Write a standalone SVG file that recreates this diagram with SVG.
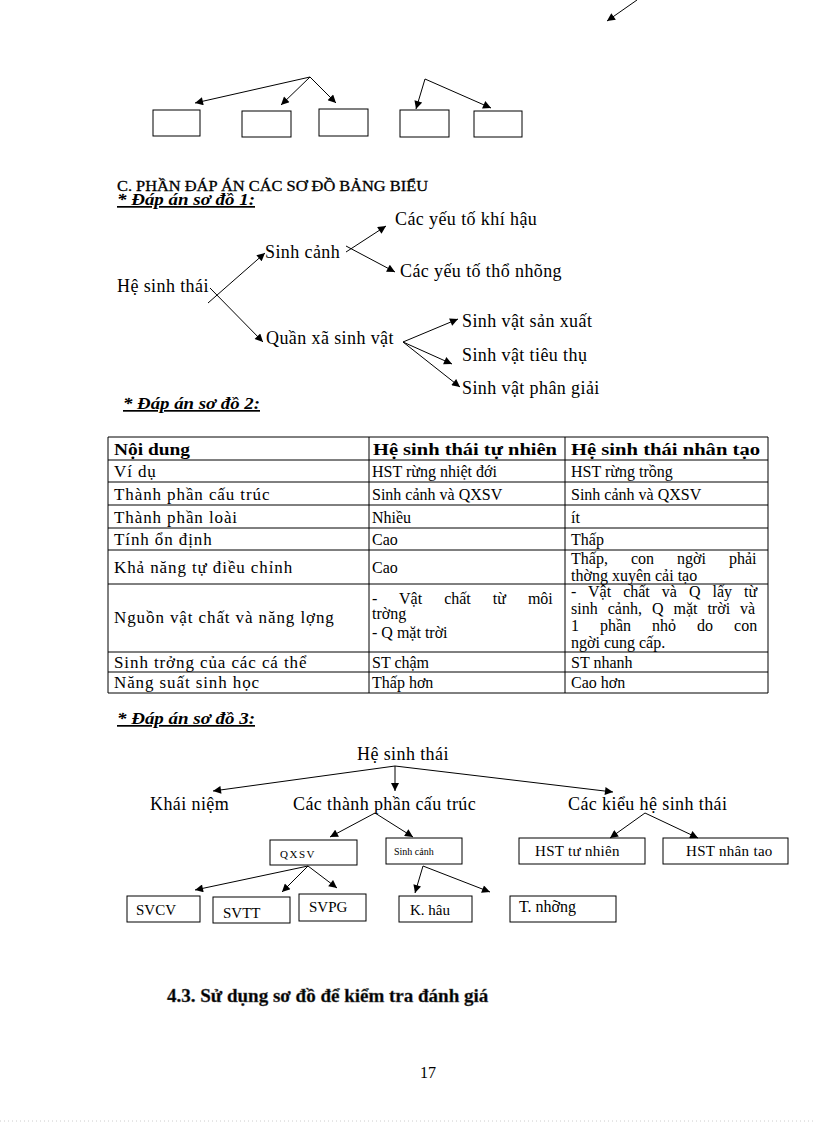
<svg xmlns="http://www.w3.org/2000/svg" width="816" height="1123" viewBox="0 0 816 1123">
<defs>
<marker id="ah" viewBox="0 0 10 10" refX="10" refY="5" markerWidth="10" markerHeight="8" markerUnits="userSpaceOnUse" orient="auto"><path d="M0,0 L10,5 L0,10 z" fill="#000"/></marker>
<style>
text{font-family:"Liberation Serif","Times New Roman",serif;fill:#000}
.t{font-size:18px;letter-spacing:0.4px}
.tc{font-size:17px;letter-spacing:0.9px}
.tb{font-size:16px}
.th{font-size:17px;font-weight:bold}
.h{font-size:17px;font-weight:bold;font-style:italic;text-decoration:underline}
.box{fill:#fff;stroke:#000;stroke-width:1}
.a{fill:none;stroke:#000;stroke-width:1;marker-end:url(#ah)}
.grid{stroke:#000;stroke-width:1}
</style>
</defs>
<rect width="816" height="1123" fill="#fff"/>

<!-- top fragment -->
<g id="top-boxes">
<rect id="tb1" class="box" x="153" y="110" width="47" height="26"/>
<rect id="tb2" class="box" x="242" y="111" width="49" height="26"/>
<rect id="tb3" class="box" x="319" y="109" width="49" height="27"/>
<rect id="tb4" class="box" x="400" y="110" width="49" height="27"/>
<rect id="tb5" class="box" x="474" y="111" width="48" height="26"/>
</g>

<text x="117" y="191" style="font-size:14px" stroke="#000" stroke-width="0.3" textLength="311" lengthAdjust="spacingAndGlyphs">C. PHẦN ĐÁP ÁN CÁC SƠ ĐỒ BẢNG BIỂU</text>
<text x="117" y="205" class="h" textLength="138" lengthAdjust="spacingAndGlyphs">* Đáp án sơ đồ 1:</text>

<!-- diagram 1 -->
<g id="d1-root"><text class="t" x="117" y="292">Hệ sinh thái</text></g>
<g id="d1-sinhcanh"><text class="t" x="265" y="258">Sinh cảnh</text></g>
<g id="d1-khihau"><text class="t" x="395" y="225">Các yếu tố khí hậu</text></g>
<g id="d1-thonhuong"><text class="t" x="400" y="277">Các yếu tố thổ nhõng</text></g>
<g id="d1-quanxa"><text class="t" x="266" y="344">Quần xã sinh vật</text></g>
<g id="d1-sx"><text class="t" x="462" y="327">Sinh vật sản xuất</text></g>
<g id="d1-tt"><text class="t" x="462" y="361">Sinh vật tiêu thụ</text></g>
<g id="d1-pg"><text class="t" x="462" y="394">Sinh vật phân giải</text></g>

<text x="123" y="409" class="h" textLength="137" lengthAdjust="spacingAndGlyphs">* Đáp án sơ đồ 2:</text>

<!-- table -->
<g id="table">
<g class="grid">
<line x1="108" y1="437" x2="768" y2="437"/>
<line x1="108" y1="460" x2="768" y2="460"/>
<line x1="108" y1="482" x2="768" y2="482"/>
<line x1="108" y1="505" x2="768" y2="505"/>
<line x1="108" y1="528" x2="768" y2="528"/>
<line x1="108" y1="550" x2="768" y2="550"/>
<line x1="108" y1="584" x2="768" y2="584"/>
<line x1="108" y1="652" x2="768" y2="652"/>
<line x1="108" y1="672" x2="768" y2="672"/>
<line x1="108" y1="693" x2="768" y2="693"/>
<line x1="108" y1="437" x2="108" y2="693"/>
<line x1="369" y1="437" x2="369" y2="693"/>
<line x1="565" y1="437" x2="565" y2="693"/>
<line x1="768" y1="437" x2="768" y2="693"/>
</g>
<text class="th" x="114" y="455" textLength="76" lengthAdjust="spacingAndGlyphs">Nội dung</text>
<text class="th" x="373" y="455" textLength="184" lengthAdjust="spacingAndGlyphs">Hệ sinh thái tự nhiên</text>
<text class="th" x="571" y="455" textLength="189" lengthAdjust="spacingAndGlyphs">Hệ sinh thái nhân tạo</text>
<text class="tc" x="114" y="477">Ví dụ</text>
<text class="tb" x="372" y="477">HST rừng nhiệt đới</text>
<text class="tb" x="571" y="477">HST rừng trồng</text>
<text class="tc" x="114" y="500">Thành phần cấu trúc</text>
<text class="tb" x="372" y="500">Sinh cảnh và QXSV</text>
<text class="tb" x="571" y="500">Sinh cảnh và QXSV</text>
<text class="tc" x="114" y="523">Thành phần loài</text>
<text class="tb" x="372" y="523">Nhiều</text>
<text class="tb" x="571" y="523">ít</text>
<text class="tc" x="114" y="545">Tính ổn định</text>
<text class="tb" x="372" y="545">Cao</text>
<text class="tb" x="571" y="545">Thấp</text>
<text class="tc" x="114" y="573">Khả năng tự điều chỉnh</text>
<text class="tb" x="372" y="573">Cao</text>
<text class="tb" x="571" y="564" style="word-spacing:19px">Thấp, con ngời phải</text>
<text class="tb" x="571" y="581">thờng  xuyên cải tạo</text>
<text class="tc" x="114" y="623">Nguồn vật chất và năng lợng</text>
<text class="tb" x="372" y="604" style="word-spacing:18px">- Vật chất từ môi</text>
<text class="tb" x="372" y="619">trờng</text>
<text class="tb" x="372" y="638">- Q mặt trời</text>
<text class="tb" x="571" y="597" style="word-spacing:8px">- Vật chất và Q lấy từ</text>
<text class="tb" x="571" y="614" style="word-spacing:6px">sinh cảnh, Q mặt trời và</text>
<text class="tb" x="571" y="631" style="word-spacing:17px">1 phần nhỏ do con</text>
<text class="tb" x="571" y="648">ngời  cung cấp.</text>
<text class="tc" x="114" y="668">Sinh trởng  của các cá thể</text>
<text class="tb" x="372" y="668">ST chậm</text>
<text class="tb" x="571" y="668">ST nhanh</text>
<text class="tc" x="114" y="688">Năng suất sinh học</text>
<text class="tb" x="372" y="688">Thấp hơn</text>
<text class="tb" x="571" y="688">Cao hơn</text>
</g>

<text x="117" y="724" class="h" textLength="138" lengthAdjust="spacingAndGlyphs">* Đáp án sơ đồ 3:</text>

<!-- diagram 3 -->
<g id="d3-root"><text class="t" x="357" y="760">Hệ sinh thái</text></g>
<g id="d3-khainiem"><text class="t" x="150" y="810">Khái niệm</text></g>
<g id="d3-thanhphan"><text class="t" x="293" y="810">Các thành phần cấu trúc</text></g>
<g id="d3-kieu"><text class="t" x="568" y="810">Các kiểu hệ sinh thái</text></g>
<g id="d3-qxsv"><rect class="box" x="270" y="840" width="87" height="25"/><text x="280" y="858" style="font-size:11px;letter-spacing:1.5px">QXSV</text></g>
<g id="d3-sinhcanh"><rect class="box" x="386" y="838" width="76" height="26"/><text x="394" y="855" style="font-size:10px">Sinh cảnh</text></g>
<g id="d3-hsttn"><rect class="box" x="519" y="838" width="126" height="26"/><text x="535" y="856" style="font-size:15px;letter-spacing:0.3px">HST tư nhiên</text></g>
<g id="d3-hstnt"><rect class="box" x="663" y="838" width="125" height="26"/><text x="686" y="856" style="font-size:15px;letter-spacing:0.3px">HST nhân tao</text></g>
<g id="d3-svcv"><rect class="box" x="127" y="896" width="73" height="26"/><text x="136" y="915" style="font-size:15px">SVCV</text></g>
<g id="d3-svtt"><rect class="box" x="213" y="897" width="77" height="26"/><text x="223" y="918" style="font-size:15px">SVTT</text></g>
<g id="d3-svpg"><rect class="box" x="299" y="894" width="67" height="27"/><text x="309" y="912" style="font-size:15px">SVPG</text></g>
<g id="d3-khau"><rect class="box" x="399" y="896" width="73" height="26"/><text x="410" y="915" style="font-size:15px">K. hâu</text></g>
<g id="d3-tnhuong"><rect class="box" x="510" y="896" width="106" height="26"/><text x="519" y="912" style="font-size:16px">T. nhỡng</text></g>

<!-- connectors -->
<g id="connectors">
<path class="a" d="M637,0 L607,21"/>
<path class="a" d="M310,77 L195,103"/>
<path class="a" d="M310,77 L281,105"/>
<path class="a" d="M310,77 L336,103"/>
<path class="a" d="M425,79 L416,109"/>
<path class="a" d="M425,79 L491,108"/>

<path class="a" d="M208,303 L265,253"/>
<path class="a" d="M210,288 L263,342"/>
<path class="a" d="M346,252 L386,226"/>
<path class="a" d="M346,246 L395,272"/>
<path class="a" d="M403,342 L458,319"/>
<path class="a" d="M403,342 L452,364"/>
<path class="a" d="M403,342 L460,387"/>

<path class="a" d="M395,766 L213,791"/>
<path class="a" d="M395,766 L395,791"/>
<path class="a" d="M395,766 L613,792"/>
<path class="a" d="M375,813 L330,837"/>
<path class="a" d="M375,813 L413,837"/>
<path class="a" d="M645,813 L610,838"/>
<path class="a" d="M645,813 L698,838"/>
<path class="a" d="M308,866 L195,890"/>
<path class="a" d="M308,866 L282,892"/>
<path class="a" d="M308,866 L337,888"/>
<path class="a" d="M423,866 L415,893"/>
<path class="a" d="M423,866 L490,892"/>
</g>

<text x="167" y="1002" style="font-size:19px;font-weight:bold" stroke="#555" stroke-width="0.4">4.3. Sử dụng sơ đồ để kiểm tra đánh giá</text>
<text x="420" y="1078" style="font-size:16px">17</text>
<line x1="0" y1="1121" x2="816" y2="1121" stroke="#ccc" stroke-width="1" stroke-dasharray="1,3"/>
</svg>
